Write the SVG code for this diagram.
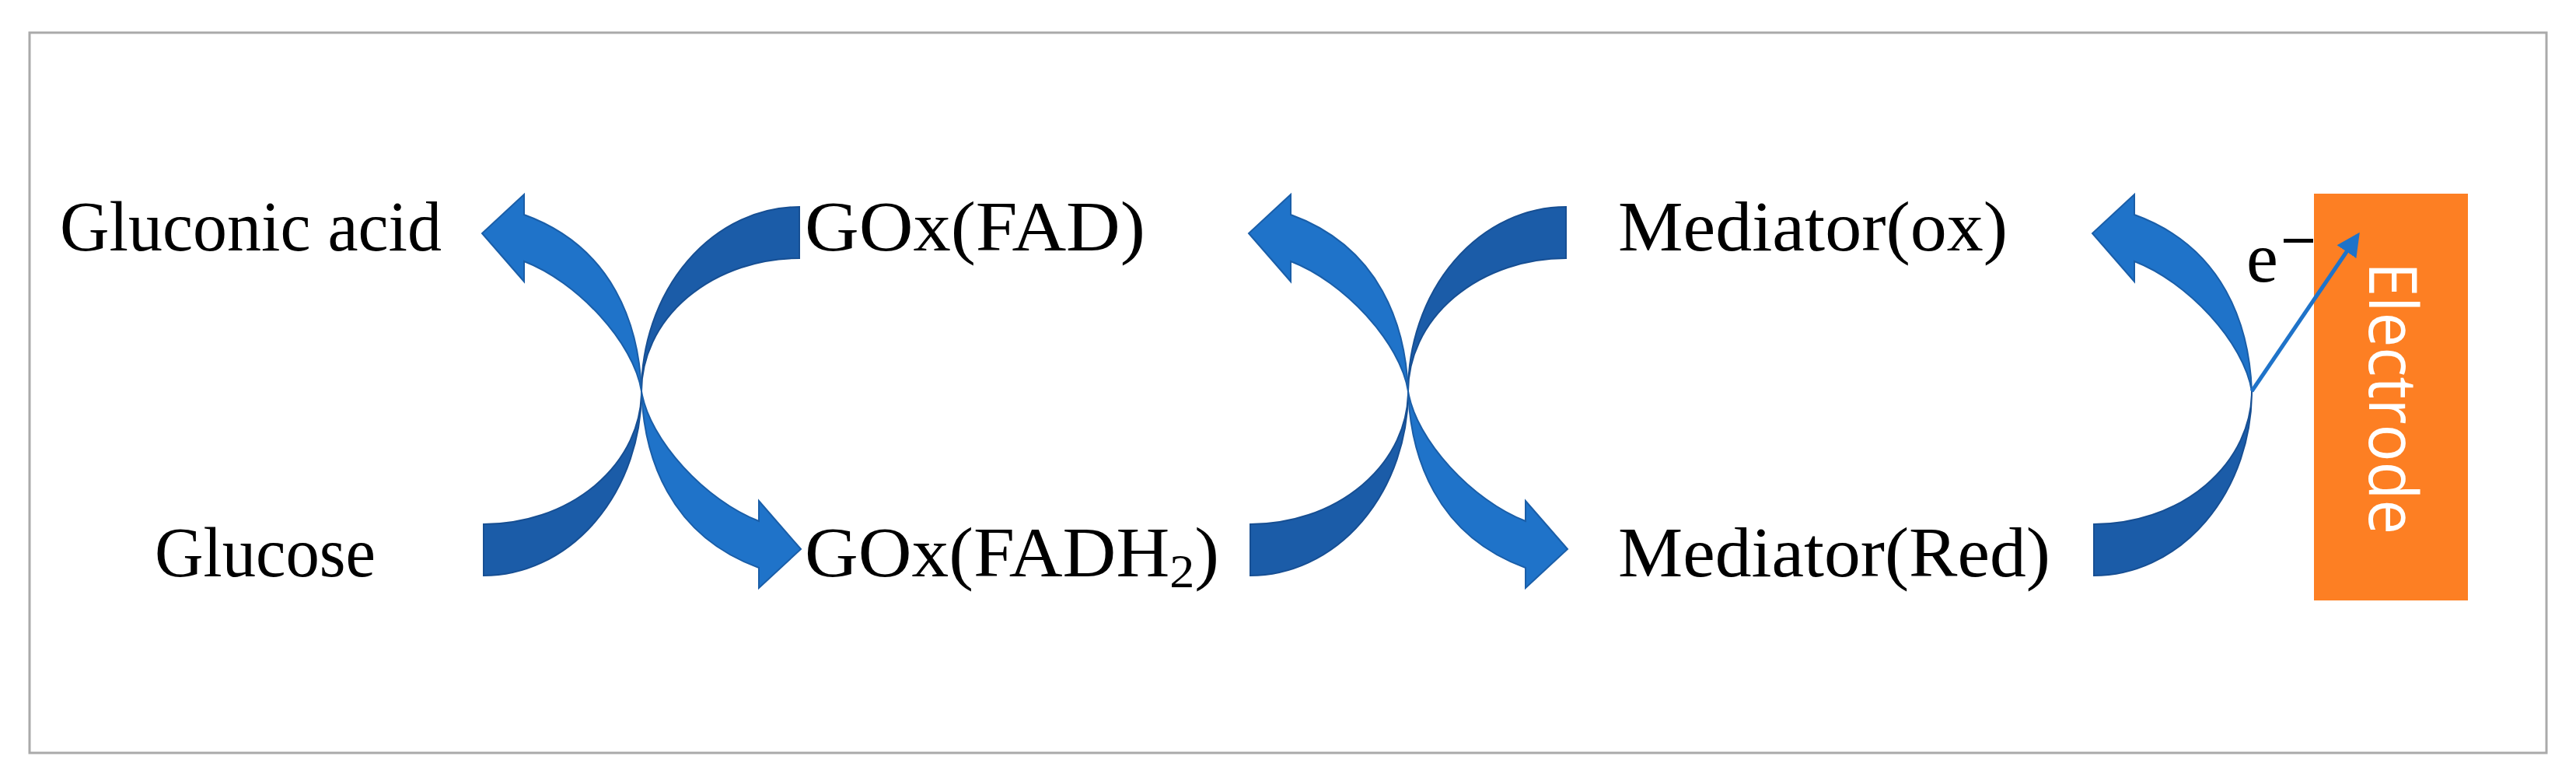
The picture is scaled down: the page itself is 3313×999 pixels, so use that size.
<svg xmlns="http://www.w3.org/2000/svg" width="3313" height="999" viewBox="0 0 3313 999">
<style>
.t{font-family:"Liberation Serif",serif;font-size:92px;fill:#000}
.lt{fill:#1F73C9;stroke:#1A5EA8;stroke-width:2}
.dk{fill:#1B5CA8;stroke:#174f93;stroke-width:2}
</style>
<defs>
<path id="arcTR" d="M1028,266 A203,237 0 0 0 825,503 A203,171 0 0 1 1028,332 Z"/>
<path id="arrUL" d="M825,503 C822,420 790,318 674,276 L674,250 L620,300 L674,362 L674,336 C742,362 815,440 825,503 Z"/>
<marker id="ah" markerWidth="6" markerHeight="6" refX="5" refY="3" orient="auto" markerUnits="strokeWidth"><path d="M0,0 L6,3 L0,6 Z" fill="#1F73C9"/></marker>
</defs>
<rect x="38" y="42" width="3237" height="926" fill="#fff" stroke="#aaa" stroke-width="3"/>
<g id="electrode">
<rect x="2976" y="249" width="198" height="523" fill="#FD7F23"/>
<text x="3047" y="337" transform="rotate(90 3047 337)" font-family="Open Sans,Liberation Sans,sans-serif" font-weight="400" font-size="86" fill="#fff" textLength="350" lengthAdjust="spacingAndGlyphs">Electrode</text>
</g>
<g id="connectors">
<g id="x1">
<use href="#arcTR" class="dk"/>
<use href="#arcTR" class="dk" transform="rotate(180 825 503)"/>
<use href="#arrUL" class="lt"/>
<use href="#arrUL" class="lt" transform="rotate(180 825 503)"/>
</g>
<g id="x2" transform="translate(986 0)">
<use href="#arcTR" class="dk"/>
<use href="#arcTR" class="dk" transform="rotate(180 825 503)"/>
<use href="#arrUL" class="lt"/>
<use href="#arrUL" class="lt" transform="rotate(180 825 503)"/>
</g>
<g id="x3" transform="translate(2071 0)">
<use href="#arcTR" class="dk" transform="rotate(180 825 503)"/>
<use href="#arrUL" class="lt"/>
</g>
<line x1="2896" y1="503" x2="3032" y2="303" stroke="#1F73C9" stroke-width="5" marker-end="url(#ah)"/>
</g>
<g id="gluconic"><text class="t" x="77" y="322" textLength="491" lengthAdjust="spacingAndGlyphs">Gluconic acid</text></g>
<g id="glucose"><text class="t" x="199" y="741" textLength="284" lengthAdjust="spacingAndGlyphs">Glucose</text></g>
<g id="goxfad"><text class="t" x="1035" y="322" textLength="438" lengthAdjust="spacingAndGlyphs">GOx(FAD)</text></g>
<g id="goxfadh2"><text class="t" x="1035" y="741" textLength="533" lengthAdjust="spacingAndGlyphs">GOx(FADH<tspan font-size="62" dy="14">2</tspan><tspan dy="-14">)</tspan></text></g>
<g id="medox"><text class="t" x="2081" y="322" textLength="501" lengthAdjust="spacingAndGlyphs">Mediator(ox)</text></g>
<g id="medred"><text class="t" x="2081" y="741" textLength="556" lengthAdjust="spacingAndGlyphs">Mediator(Red)</text></g>
<g id="electron"><text class="t" x="2889" y="362">e</text><rect x="2937" y="307" width="38" height="5" fill="#000"/></g>
</svg>
